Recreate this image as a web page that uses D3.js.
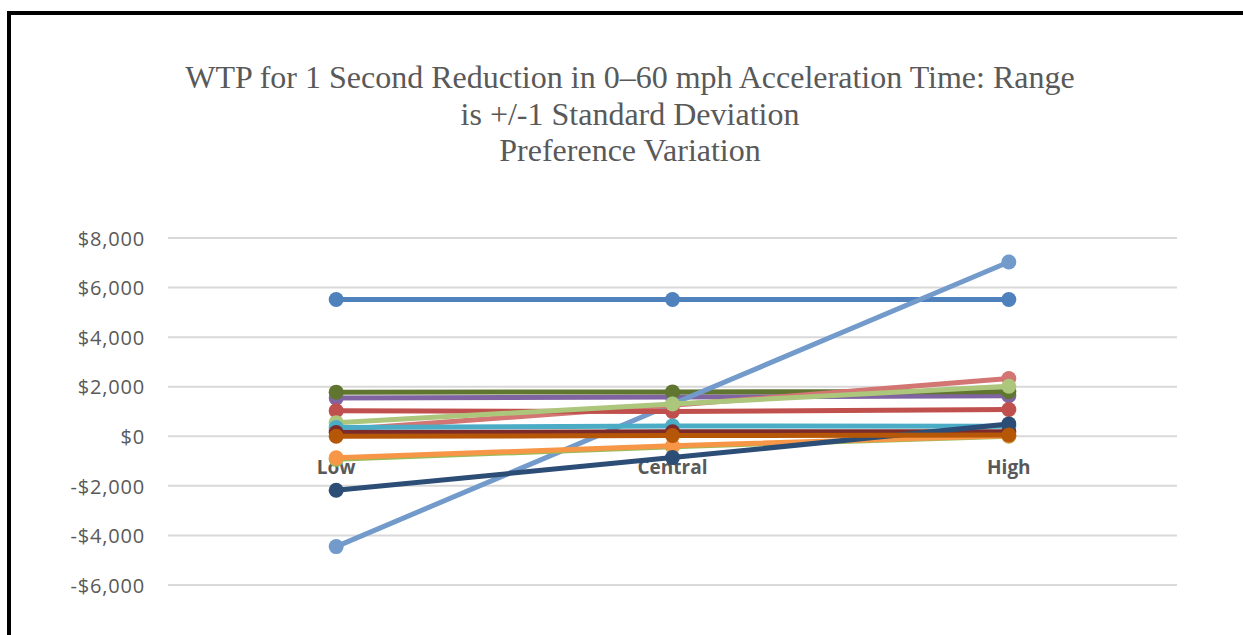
<!DOCTYPE html>
<html>
<head>
<meta charset="utf-8">
<script src="https://cdn.jsdelivr.net/npm/d3@7"></script>
<style>
  body { margin: 0; background: #fff; }
  svg { display: block; }
</style>
</head>
<body>
<script>
// categories and series (WTP, $)
const categories = ["Low", "Central", "High"];
const yTicks = [-6000, -4000, -2000, 0, 2000, 4000, 6000, 8000];
const titleLines = [
  "WTP for 1 Second Reduction in 0\u201360 mph Acceleration Time: Range",
  "is +/-1 Standard Deviation",
  "Preference Variation"
];

// drawn bottom to top
const seriesNames = ["s1", "s2", "s3", "s4", "s5", "s6", "s7", "s8", "s9", "s10", "s11", "s12", "s13"];
const seriesColors = ["#4f81bd", "#8064a2", "#5f7530", "#729aca", "#d37572", "#c0504d", "#acc67c",
                      "#4bacc6", "#9bbb59", "#f79646", "#7b2b2a", "#2c4d75", "#b65708"];
const seriesValues = [
  [5520, 5520, 5520],
  [1540, 1580, 1640],
  [1780, 1790, 1800],
  [-4450, 1300, 7030],
  [250, 1250, 2330],
  [1030, 1000, 1080],
  [550, 1300, 2020],
  [350, 420, 400],
  [-930, -420, 0],
  [-870, -380, 20],
  [150, 180, 180],
  [-2180, -860, 500],
  [0, 30, 50]
];

const width = 1243, height = 635;
const plot = {left: 168, right: 1177, top: 238, bottom: 585};

const svg = d3.select("body").append("svg")
    .attr("width", width)
    .attr("height", height);

// chart frame (only top and left visible)
svg.append("rect")
    .attr("x", 9).attr("y", 13)
    .attr("width", 1300).attr("height", 700)
    .attr("fill", "#fff")
    .attr("stroke", "#000")
    .attr("stroke-width", 4);

let x = d3.scalePoint()
    .domain(categories)
    .range([plot.left, plot.right])
    .padding(0.5);

let y = d3.scaleLinear()
    .domain([-6000, 8000])
    .range([plot.bottom, plot.top]);

let fmt = v => (v < 0 ? "-$" : "$") + d3.format(",")(Math.abs(v));

// title
svg.append("g")
    .selectAll("text")
    .data(titleLines)
    .enter().append("text")
    .attr("x", 630)
    .attr("y", (d, i) => 88 + i * 36.5)
    .attr("text-anchor", "middle")
    .style("font-family", "'Liberation Serif', 'Times New Roman', serif")
    .style("font-size", "32px")
    .style("fill", "#595959")
    .text(d => d);

// gridlines
svg.append("g")
    .selectAll("line")
    .data(yTicks)
    .enter().append("line")
    .attr("x1", plot.left).attr("x2", plot.right)
    .attr("y1", d => y(d)).attr("y2", d => y(d))
    .style("stroke", "#d9d9d9")
    .style("stroke-width", 2);

// y axis labels
let yAxis = d3.axisLeft(y).tickValues(yTicks).tickFormat(fmt).tickSize(0).tickPadding(0);
let ya = svg.append("g")
    .attr("transform", "translate(145,0)")
    .call(yAxis);
ya.select(".domain").remove();
ya.selectAll("text")
    .attr("dy", "0.36em")
    .style("font-family", "'Open Sans', sans-serif")
    .style("font-size", "20px")
    .style("letter-spacing", "0.8px")
    .style("fill", "#595959");

// category labels next to zero line
svg.append("g")
    .selectAll("text")
    .data(categories)
    .enter().append("text")
    .attr("x", d => x(d))
    .attr("y", y(0) + 38)
    .attr("text-anchor", "middle")
    .style("font-family", "'Open Sans', sans-serif")
    .style("font-weight", "bold")
    .style("font-size", "19px")
    .style("fill", "#595959")
    .text(d => d);

// lines + markers
let line = d3.line()
    .x((d, i) => x(categories[i]))
    .y(d => y(d));

let series = svg.append("g")
    .selectAll("g")
    .data(seriesValues)
    .enter().append("g")
    .attr("class", (d, i) => seriesNames[i]);

series.append("path")
    .attr("d", d => line(d))
    .style("fill", "none")
    .style("stroke", (d, i) => seriesColors[i])
    .style("stroke-width", 5)
    .style("stroke-linejoin", "round");

series.each(function(vals, si) {
    d3.select(this).selectAll("circle")
        .data(vals)
        .enter().append("circle")
        .attr("cx", (d, i) => x(categories[i]))
        .attr("cy", d => y(d))
        .attr("r", 7.5)
        .style("fill", seriesColors[si]);
});
</script>
</body>
</html>
